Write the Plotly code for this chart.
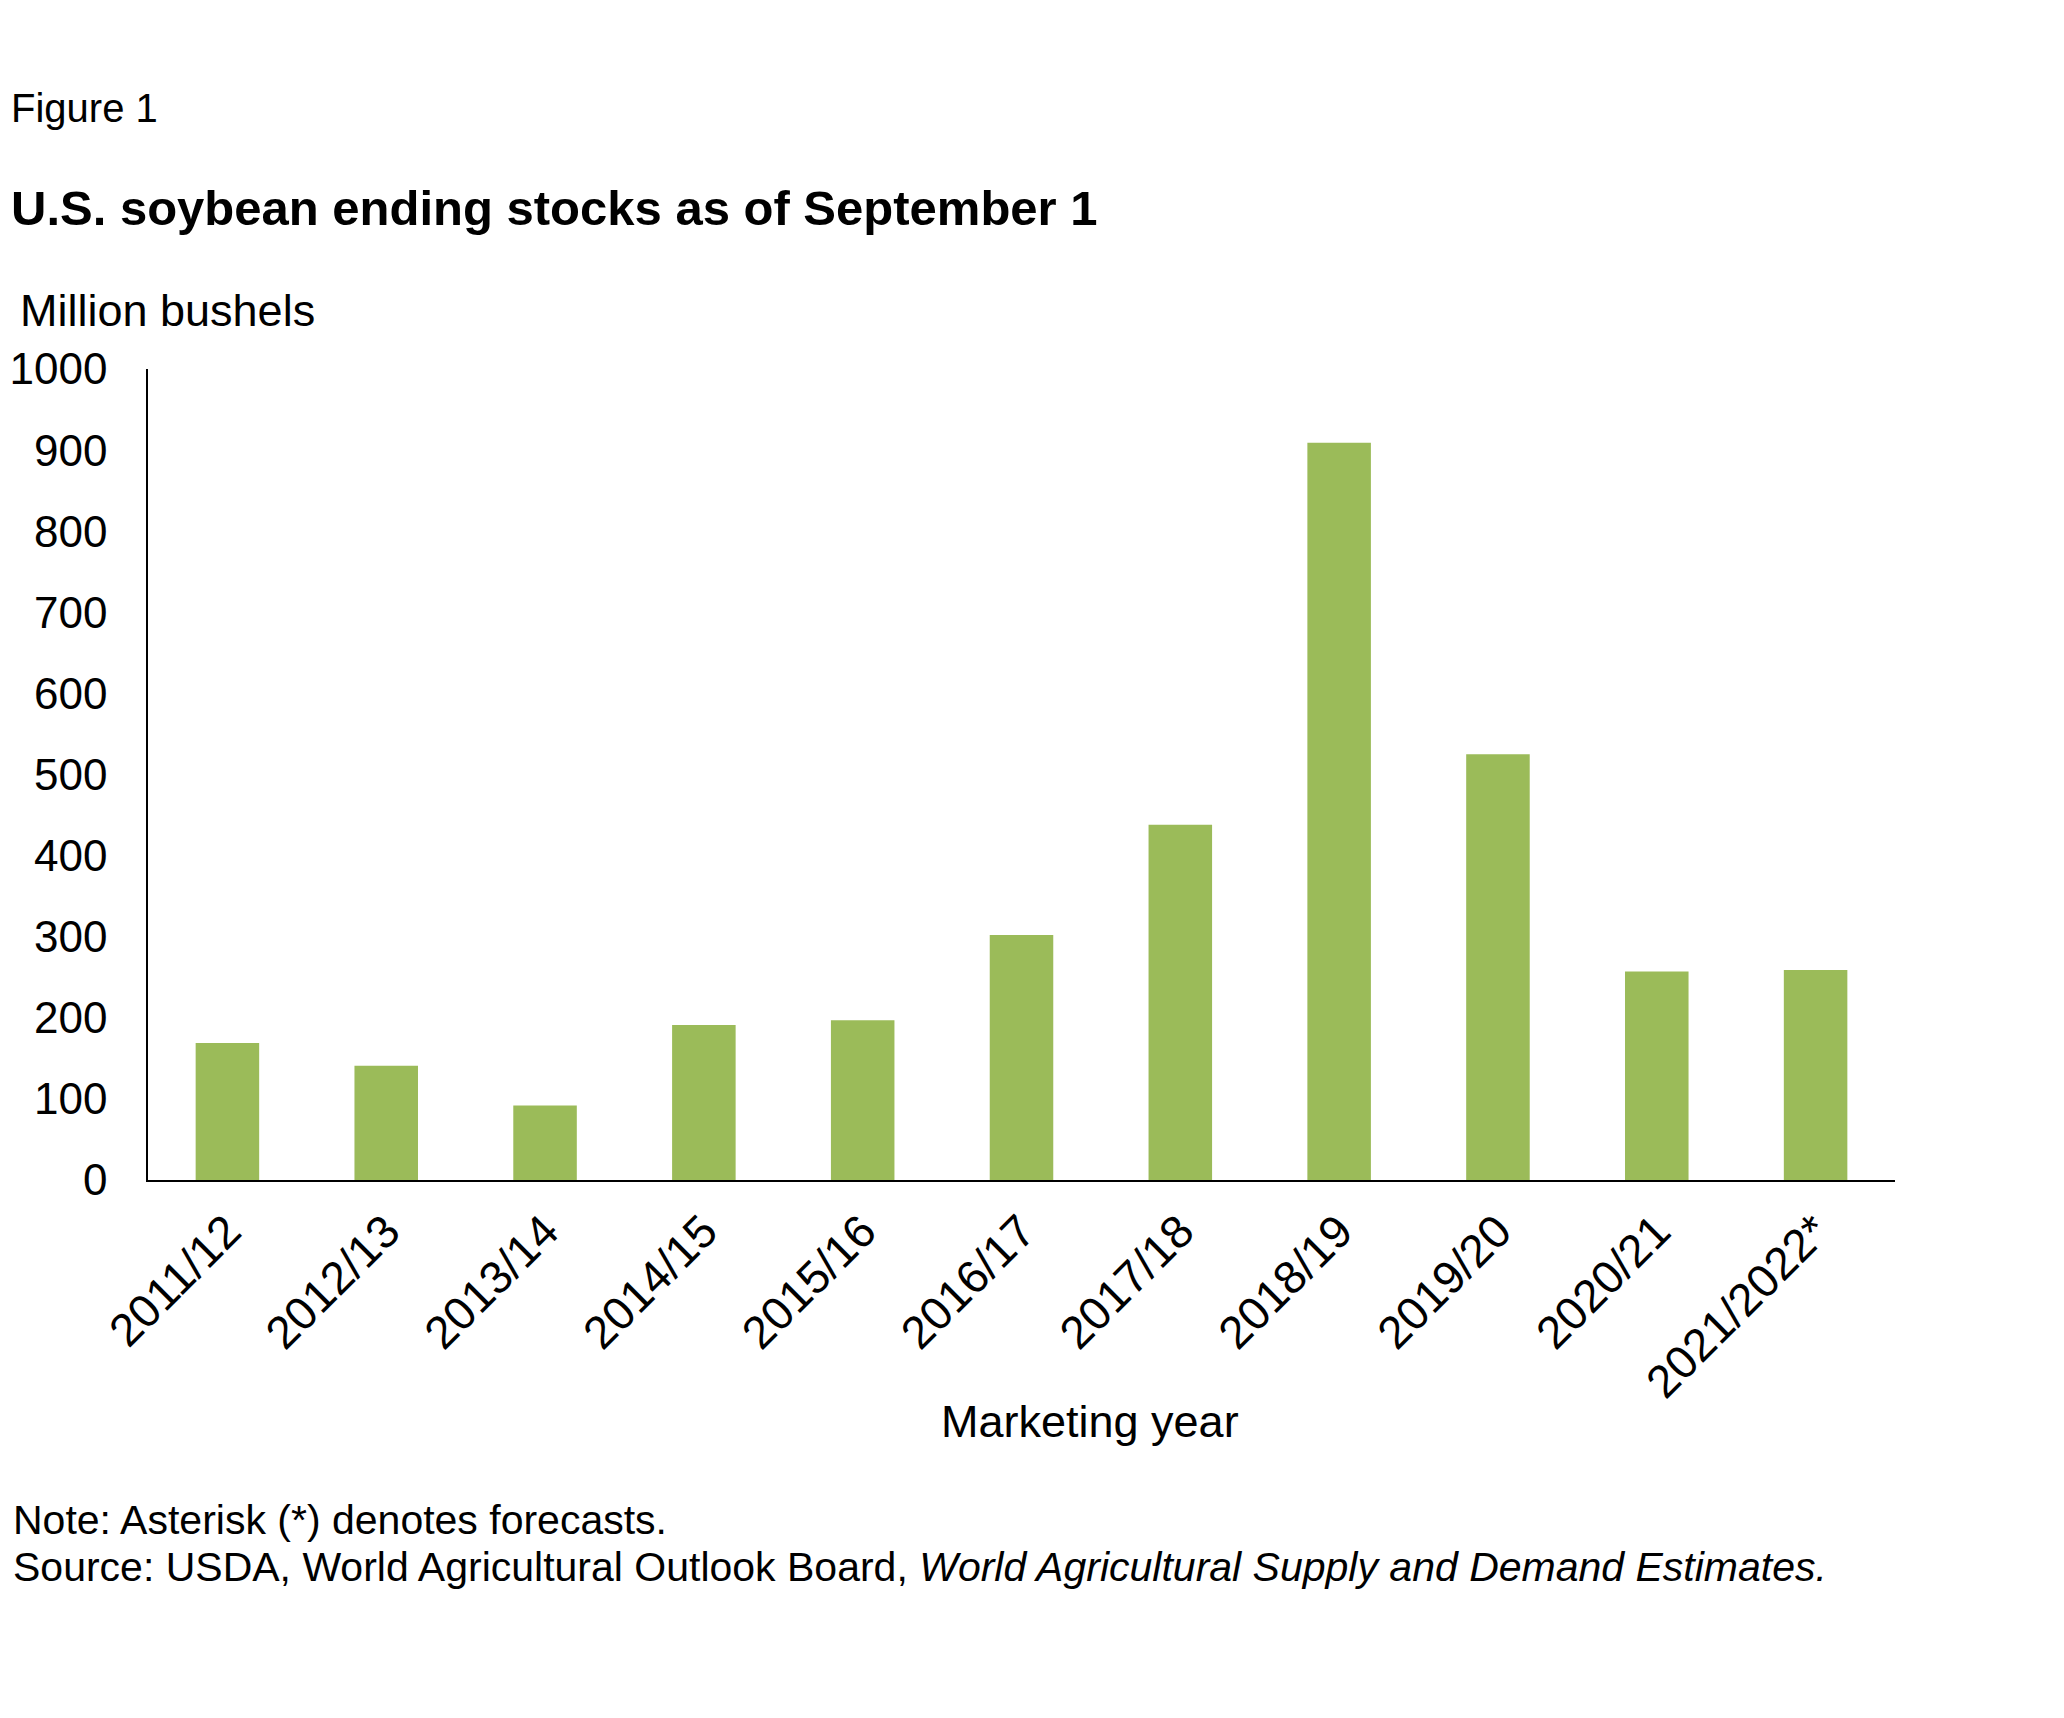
import plotly.graph_objects as go

# Marketing years and ending stocks (million bushels)
years = ["2011/12", "2012/13", "2013/14", "2014/15", "2015/16", "2016/17",
         "2017/18", "2018/19", "2019/20", "2020/21", "2021/2022*"]
stocks = [169, 141, 92, 191, 197, 302, 438, 909, 525, 257, 259]
y_ticks = [0, 100, 200, 300, 400, 500, 600, 700, 800, 900, 1000]

W, H = 2064, 1718
OFF = 8  # page offset seen in the screenshot
L, R, T, B = 148 - OFF, 169 + OFF, 369 - OFF, 538 + OFF
PW, PH = W - L - R, H - T - B
FONT = "Liberation Sans, Arial, sans-serif"


def px(x):
    return (x - OFF - L) / PW


def py(y):
    return (H - B - (y - OFF)) / PH


fig = go.Figure(go.Bar(
    x=years, y=stocks,
    marker=dict(color="#9BBB59", line=dict(width=0)),
    width=0.4,
))

fig.update_layout(
    width=W, height=H,
    margin=dict(l=L, r=R, t=T, b=B, autoexpand=False),
    paper_bgcolor="white", plot_bgcolor="white",
    font=dict(family=FONT, size=44, color="black"),
    showlegend=False,
)

fig.update_xaxes(
    type="category", range=[-0.5, 10.5], automargin=False,
    showline=True, linecolor="black", linewidth=1.5,
    showgrid=False, ticks="", tickangle=-45,
    ticklabelstandoff=4, tickfont=dict(size=46),
)
fig.update_yaxes(
    range=[0, 1000], tickvals=y_ticks, automargin=False,
    showline=True, linecolor="black", linewidth=1.5,
    showgrid=False, zeroline=False, ticks="",
    ticklabelstandoff=30, tickfont=dict(size=44),
)

notes = [
    (9, 108, "Figure 1", 40),
    (9, 208, "<b>U.S. soybean ending stocks as of September 1</b>", 49),
    (18, 310, "Million bushels", 45),
    (11, 1520, "Note: Asterisk (*) denotes forecasts.", 41),
    (11, 1567, "Source: USDA, World Agricultural Outlook Board, "
               "<i>World Agricultural Supply and Demand Estimates.</i>", 41),
]
for x, y, text, size in notes:
    fig.add_annotation(
        x=px(x), y=py(y), xref="paper", yref="paper",
        xanchor="left", yanchor="middle", showarrow=False,
        text=text, font=dict(size=size),
    )

fig.add_annotation(
    x=px(1090), y=py(1421), xref="paper", yref="paper",
    xanchor="center", yanchor="middle", showarrow=False,
    text="Marketing year", font=dict(size=45),
)

fig.write_html("out.html")
